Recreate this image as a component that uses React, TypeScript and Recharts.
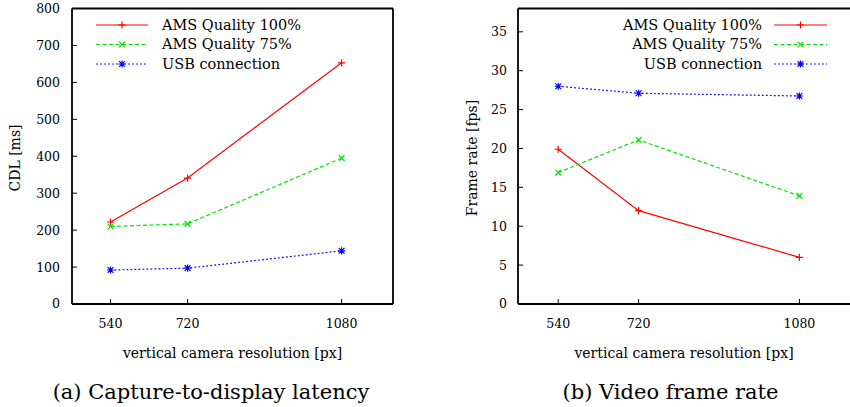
import React from 'react';
import { LineChart, Line, XAxis, YAxis } from 'recharts';

const resolutions = [540, 720, 1080];
const seriesNames = ['AMS Quality 100%', 'AMS Quality 75%', 'USB connection'];
const cdlAms100 = [222, 341, 653];
const cdlAms75 = [210, 217, 395];
const cdlUsb = [92, 97, 144];
const fpsAms100 = [19.9, 12.0, 6.0];
const fpsAms75 = [16.9, 21.1, 13.9];
const fpsUsb = [28.0, 27.1, 26.75];
const xTicks = [540, 720, 1080];
const cdlTicks = [0, 100, 200, 300, 400, 500, 600, 700, 800];
const fpsTicks = [0, 5, 10, 15, 20, 25, 30, 35];
const xLabel = 'vertical camera resolution [px]';
const cdlLabel = 'CDL [ms]';
const fpsLabel = 'Frame rate [fps]';
const captionA = '(a) Capture-to-display latency';
const captionB = '(b) Video frame rate';

const keys = ['a100', 'a75', 'usb'];
const colors = ['#ff0000', '#00e600', '#0000ff'];
const dashes = [undefined, '4 2.5', '1.8 2.2'];
const markers = ['plus', 'cross', 'star'];

const cdlData = resolutions.map((res, i) => ({ res, a100: cdlAms100[i], a75: cdlAms75[i], usb: cdlUsb[i] }));
const fpsData = resolutions.map((res, i) => ({ res, a100: fpsAms100[i], a75: fpsAms75[i], usb: fpsUsb[i] }));

const FONT = 'DejaVu Serif';

function Marker({ cx, cy, kind, color }: { cx: number; cy: number; kind: string; color: string }) {
  const s = 3.6;
  const plus = `M${cx - s},${cy}H${cx + s}M${cx},${cy - s}V${cy + s}`;
  const d = s * 0.8;
  const cross = `M${cx - d},${cy - d}L${cx + d},${cy + d}M${cx - d},${cy + d}L${cx + d},${cy - d}`;
  let path = plus;
  if (kind === 'cross') path = cross;
  if (kind === 'star') path = plus + cross;
  return <path d={path} stroke={color} strokeWidth={1.2} fill="none" />;
}

function Panel({ data, yDomain, yTicks, width, yAxisWidth, marginRight, yTickMargin }: any) {
  const axisLine = { stroke: '#000', strokeWidth: 1.8 };
  const tickLine = { stroke: '#000', strokeWidth: 1 };
  const tickStyle = { fill: '#000', fontSize: 12.5, fontFamily: FONT };
  return (
    <LineChart width={width} height={330} data={data} margin={{ top: 8.5, right: marginRight, bottom: 0, left: 0 }}>
      <XAxis xAxisId="b" type="number" dataKey="res" domain={[450, 1200]} ticks={xTicks} allowDataOverflow
        interval={0} tickSize={-5} tickMargin={20} height={26} axisLine={axisLine} tickLine={tickLine} tick={tickStyle} />
      <XAxis xAxisId="t" type="number" orientation="top" mirror domain={[450, 1200]} ticks={xTicks} allowDataOverflow
        interval={0} tickSize={5} axisLine={axisLine} tickLine={tickLine} tick={false} />
      <YAxis yAxisId="l" type="number" domain={yDomain} ticks={yTicks} allowDataOverflow interval={0}
        width={yAxisWidth} tickSize={-5} tickMargin={yTickMargin} axisLine={axisLine} tickLine={tickLine} tick={tickStyle} />
      <YAxis yAxisId="r" type="number" orientation="right" mirror domain={yDomain} ticks={yTicks} allowDataOverflow interval={0}
        tickSize={5} axisLine={axisLine} tickLine={tickLine} tick={false} />
      {keys.map((k, si) => (
        <Line key={k} xAxisId="b" yAxisId="l" type="linear" dataKey={k} name={seriesNames[si]}
          stroke={colors[si]} strokeWidth={1.2} strokeDasharray={dashes[si]} isAnimationActive={false} activeDot={false}
          dot={(p: any) => <Marker key={`${k}-${p.index}`} cx={p.cx} cy={p.cy} kind={markers[si]} color={colors[si]} />} />
      ))}
    </LineChart>
  );
}

function LegendRows({ lineX1, lineX2, textX, anchor }: { lineX1: number; lineX2: number; textX: number; anchor: 'start' | 'end' }) {
  const rowsY = [25, 44.5, 64];
  const mx = (lineX1 + lineX2) / 2;
  return (
    <g>
      {seriesNames.map((name, i) => (
        <g key={name}>
          <line x1={lineX1} x2={lineX2} y1={rowsY[i]} y2={rowsY[i]} stroke={colors[i]} strokeWidth={1.2} strokeDasharray={dashes[i]} />
          <Marker cx={mx} cy={rowsY[i]} kind={markers[i]} color={colors[i]} />
          <text x={textX} y={rowsY[i] + 4.5} textAnchor={anchor} fontFamily={FONT} fontSize={14.5} fill="#000">{name}</text>
        </g>
      ))}
    </g>
  );
}

export default function App() {
  return (
    <div style={{ position: 'absolute', left: 0, top: 0, width: 850, height: 407, overflow: 'hidden', background: '#fff' }}>
      <div style={{ position: 'absolute', left: 0, top: 0 }}>
        <Panel data={cdlData} yDomain={[0, 800]} yTicks={cdlTicks} width={420} yAxisWidth={72} marginRight={27} yTickMargin={17} />
      </div>
      <div style={{ position: 'absolute', left: 420, top: 0 }}>
        <Panel data={fpsData} yDomain={[0, 38]} yTicks={fpsTicks} width={433} yAxisWidth={98} marginRight={0} yTickMargin={16} />
      </div>
      <svg width={850} height={407} style={{ position: 'absolute', left: 0, top: 0, pointerEvents: 'none' }}>
        <LegendRows lineX1={96} lineX2={148} textX={162} anchor="start" />
        <LegendRows lineX1={774} lineX2={827} textX={762} anchor="end" />
        <text x={20} y={158} transform="rotate(-90 20 158)" textAnchor="middle" fontFamily={FONT} fontSize={14} fill="#000">{cdlLabel}</text>
        <text x={477} y={158} transform="rotate(-90 477 158)" textAnchor="middle" fontFamily={FONT} fontSize={14} fill="#000">{fpsLabel}</text>
        <text x={232.5} y={358} textAnchor="middle" fontFamily={FONT} fontSize={14} fill="#000">{xLabel}</text>
        <text x={684} y={358} textAnchor="middle" fontFamily={FONT} fontSize={14} fill="#000">{xLabel}</text>
        <text x={211} y={399} textAnchor="middle" fontFamily={FONT} fontSize={21} fill="#000">{captionA}</text>
        <text x={670.5} y={399} textAnchor="middle" fontFamily={FONT} fontSize={21} fill="#000">{captionB}</text>
      </svg>
    </div>
  );
}
